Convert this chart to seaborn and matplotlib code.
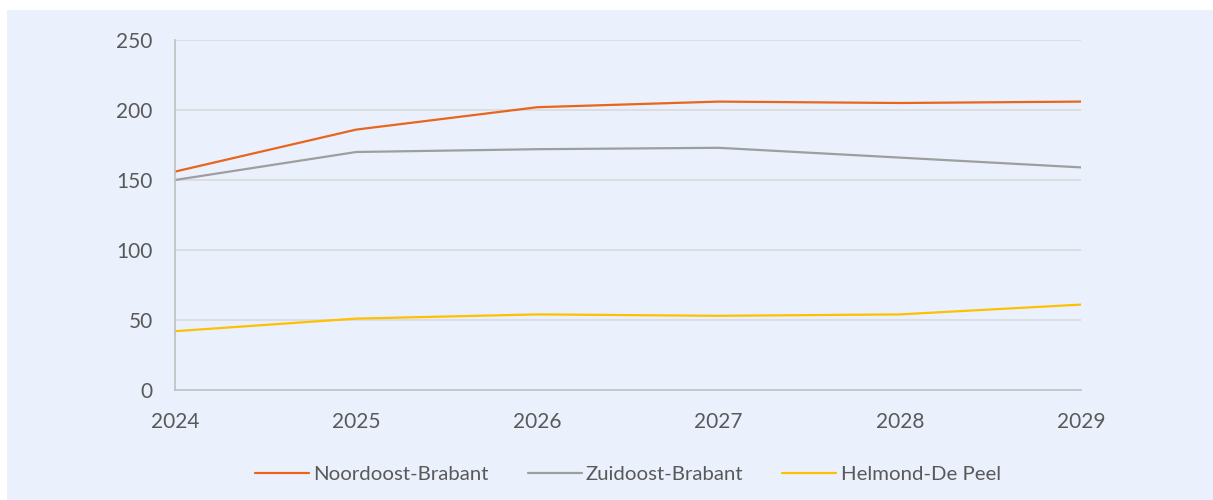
import matplotlib
matplotlib.use('Agg')
import matplotlib.pyplot as plt
import matplotlib.patches as mpatches
import pandas as pd
import seaborn as sns

years = ['2024', '2025', '2026', '2027', '2028', '2029']
noordoost = [156, 186, 202, 206, 205, 206]
zuidoost = [150, 170, 172, 173, 166, 159]
helmond = [42, 51, 54, 53, 54, 61]
series_names = ['Noordoost-Brabant', 'Zuidoost-Brabant', 'Helmond-De Peel']
colors = ['#E8651B', '#9E9E9E', '#FFC000']
y_ticks = [0, 50, 100, 150, 200, 250]

df = pd.DataFrame({'jaar': years, series_names[0]: noordoost,
                   series_names[1]: zuidoost, series_names[2]: helmond})
long = df.melt(id_vars='jaar', var_name='regio', value_name='waarde')

sns.set_theme(style='white')
plt.rcParams['font.family'] = ['Lato', 'DejaVu Sans']

bg = '#EAF1FD'
text_col = '#595959'
fig = plt.figure(figsize=(12.13, 5.0), dpi=100)
fig.patch.set_facecolor('white')
fig.patches.append(mpatches.Rectangle((7 / 1213, 0), 1 - 7 / 1213, 1 - 10 / 500,
                                      transform=fig.transFigure, facecolor=bg,
                                      edgecolor='none', zorder=-1))

ax = fig.add_axes([175 / 1213, 1 - 390 / 500, (1081 - 175) / 1213, 350 / 500])
ax.set_facecolor(bg)

sns.lineplot(data=long, x='jaar', y='waarde', hue='regio', palette=colors,
             linewidth=1.6, ax=ax, legend=True)

ax.set_xlim(0, len(years) - 1)
ax.set_ylim(0, 250)
ax.set_yticks(y_ticks)
for v in y_ticks[1:]:
    ax.axhline(v, color='#D9D9D9', linewidth=1.2, zorder=0)

for s in ['top', 'right']:
    ax.spines[s].set_visible(False)
for s in ['left', 'bottom']:
    ax.spines[s].set_color('#BFBFBF')
    ax.spines[s].set_linewidth(1.2)

ax.tick_params(axis='x', direction='out', length=7, width=1.2, color='#BFBFBF',
               labelsize=15, labelcolor=text_col, pad=9)
ax.tick_params(axis='y', length=0, labelsize=15, labelcolor=text_col, pad=16)
ax.set_xlabel('')
ax.set_ylabel('')

leg = ax.legend(loc='upper center', bbox_to_anchor=(0.5, -0.165), ncol=3,
                frameon=False, fontsize=14.7, handlelength=2.65, handletextpad=0.2,
                columnspacing=1.9)
for t in leg.get_texts():
    t.set_color(text_col)

fig.savefig('out.png', dpi=100, facecolor=fig.get_facecolor())
